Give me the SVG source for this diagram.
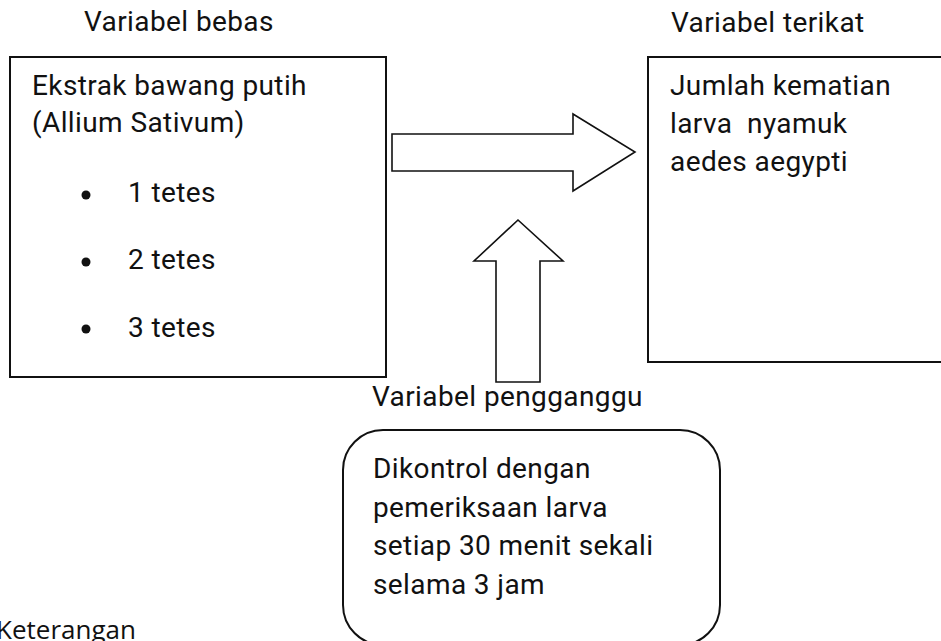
<svg xmlns="http://www.w3.org/2000/svg" width="941" height="641" viewBox="0 0 941 641">
<style>
.t{font-family:Roboto,"Liberation Sans",sans-serif;font-size:28px;letter-spacing:0.4px;fill:#111}
.k{font-family:"Open Sans","Noto Sans",sans-serif;font-size:26px;fill:#111}
.box{fill:#fff;stroke:#111;stroke-width:2}
.arr{fill:#fff;stroke:#111;stroke-width:1.6;stroke-linejoin:miter}
</style>
<rect width="941" height="641" fill="#fff"/>
<g id="label-bebas"><text class="t" x="84" y="31">Variabel bebas</text></g>
<g id="label-terikat"><text class="t" x="671" y="32">Variabel terikat</text></g>
<g id="node-bebas">
<rect class="box" x="10" y="57" width="376" height="320"/>
<text class="t" x="32" y="95">Ekstrak bawang putih</text>
<text class="t" x="32" y="132">(Allium Sativum)</text>
<circle cx="86" cy="195" r="4.5" fill="#111"/>
<text class="t" x="128" y="202">1 tetes</text>
<circle cx="86" cy="262" r="4.5" fill="#111"/>
<text class="t" x="128" y="269">2 tetes</text>
<circle cx="86" cy="329" r="4.5" fill="#111"/>
<text class="t" x="128" y="337">3 tetes</text>
</g>
<g id="node-terikat">
<rect class="box" x="648" y="57" width="310" height="305"/>
<text class="t" x="670" y="95">Jumlah kematian</text>
<text class="t" x="670" y="133" xml:space="preserve">larva  nyamuk</text>
<text class="t" x="670" y="171">aedes aegypti</text>
</g>
<g id="connectors">
<polygon class="arr" points="392,134 573,134 573,114 635,152 573,191 573,171 392,171"/>
<polygon class="arr" points="496,382 496,261 474,261 518,220 563,261 540,261 540,382"/>
</g>
<g id="label-pengganggu"><text class="t" x="372" y="406">Variabel pengganggu</text></g>
<g id="node-pengganggu">
<rect class="box" x="343" y="430" width="377" height="215" rx="40" ry="40"/>
<text class="t" x="373" y="478">Dikontrol dengan</text>
<text class="t" x="373" y="517">pemeriksaan larva</text>
<text class="t" x="373" y="555">setiap 30 menit sekali</text>
<text class="t" x="373" y="594">selama 3 jam</text>
</g>
<g id="keterangan"><text class="k" x="-4" y="639">Keterangan</text></g>
</svg>
